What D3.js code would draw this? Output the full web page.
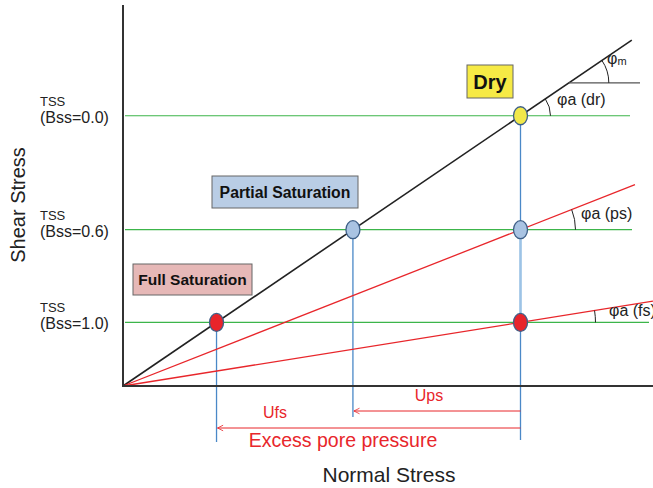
<!DOCTYPE html>
<html lang="en">
<head>
<meta charset="utf-8">
<title>Shear stress vs normal stress</title>
<script src="https://d3js.org/d3.v7.min.js"></script>
<style>
  body { margin: 0; padding: 0; background: #fff; }
  svg { display: block; font-family: "Liberation Sans", Arial, sans-serif; }
  .axis { stroke: #333; stroke-width: 2; fill: none; }
  .lvl { stroke: #3cb54a; stroke-width: 1.2; }
  .vline { stroke: #4a88c7; stroke-width: 1.3; }
  .arc { fill: none; stroke: #222; stroke-width: 1; }
  .lab { font-size: 16px; fill: #222; }
  .red { fill: #e8262b; }
</style>
</head>
<body>
<script>
// data (abstract units)
var sigmaTest = 7.5;                 // normal stress of the test
var states = ["Dry", "Partial Saturation", "Full Saturation"];
var stateKeys = ["dr", "ps", "fs"];
var bssLabels = ["(Bss=0.0)", "(Bss=0.6)", "(Bss=1.0)"];
var tauLevels = [5.1, 2.95, 1.2];    // shear strength for each state
var lineEnds = [9.6, 9.66, 10];      // where each envelope stops
var stateFill = ["#f6ea45", "#b9cde5", "#e6b8b7"];
var pointFill = ["#f1e84a", "#a9c3e2", "#e8242a"];

var width = 653, height = 488;

var svg = d3.select("body").append("svg")
    .attr("width", width)
    .attr("height", height);

var x = d3.scaleLinear().domain([0, 10]).range([123, 653]);
var y = d3.scaleLinear().domain([0, 7.19]).range([386, 5]);

var slopeM = tauLevels[0] / sigmaTest;   // tan(phi m)
// effective stress where each level meets the envelope
var sigmaEff = tauLevels.map(function(t) { return t / slopeM; });

svg.append("defs").append("marker")
    .attr("id", "ah")
    .attr("viewBox", "-9 -5 10 10")
    .attr("refX", 0).attr("refY", 0)
    .attr("markerWidth", 8).attr("markerHeight", 8)
    .attr("orient", "auto")
    .append("path")
    .attr("d", "M-7,-3.5 L0,0 L-7,3.5")
    .attr("fill", "none")
    .attr("stroke", "#e8262b")
    .attr("stroke-width", 1);

// horizontal levels
var levelEnd = [630, 632, 649];
svg.selectAll(".lvl").data(tauLevels).enter().append("line")
    .attr("class", "lvl")
    .attr("x1", x(0) + 2).attr("x2", function(d, i) { return levelEnd[i]; })
    .attr("y1", function(d) { return y(d); })
    .attr("y2", function(d) { return y(d); });

// vertical blue lines
var vBottom = [442, 417];
svg.append("line").attr("class", "vline")
    .attr("x1", x(sigmaEff[2])).attr("x2", x(sigmaEff[2]))
    .attr("y1", y(tauLevels[2])).attr("y2", vBottom[0]);
svg.append("line").attr("class", "vline")
    .attr("x1", x(sigmaEff[1])).attr("x2", x(sigmaEff[1]))
    .attr("y1", y(tauLevels[1])).attr("y2", vBottom[1]);
svg.append("line").attr("class", "vline")
    .attr("x1", x(sigmaTest)).attr("x2", x(sigmaTest))
    .attr("y1", y(tauLevels[0])).attr("y2", 440);
svg.append("line")
    .attr("x1", x(sigmaTest)).attr("x2", x(sigmaTest))
    .attr("y1", y(tauLevels[1])).attr("y2", y(tauLevels[2]))
    .attr("stroke", "#9dc3e6").attr("stroke-width", 2.5);

// envelopes
svg.selectAll(".env").data(tauLevels).enter().append("line")
    .attr("class", "env")
    .attr("x1", x(0)).attr("y1", y(0))
    .attr("x2", function(d, i) { return x(lineEnds[i]); })
    .attr("y2", function(d, i) { return y(d / sigmaTest * lineEnds[i]); })
    .attr("stroke", function(d, i) { return i == 0 ? "#222" : "#e8262b"; })
    .attr("stroke-width", function(d, i) { return i == 0 ? 1.6 : 1.3; });

// short horizontal for phi m
var tauM = 5.72;
svg.append("line")
    .attr("x1", x(tauM / slopeM)).attr("x2", 640)
    .attr("y1", y(tauM)).attr("y2", y(tauM))
    .attr("stroke", "#555").attr("stroke-width", 1.2);

// axes
svg.append("path").attr("class", "axis")
    .attr("d", "M" + x(0) + "," + y(7.19) + "V" + y(0) + "H" + x(10));

// angle arcs
function angleArc(cx, cy, r, slopePx) {
  var a = Math.atan(slopePx);
  var p = d3.path();
  p.moveTo(cx + r, cy);
  p.arc(cx, cy, r, 0, -a, true);
  return p.toString();
}
function pxSlope(i) {
  return (y(0) - y(tauLevels[i])) / (x(sigmaTest) - x(0));
}
var arcR = [30, 55, 75];
tauLevels.forEach(function(t, i) {
  svg.append("path").attr("class", "arc")
      .attr("d", angleArc(x(sigmaTest), y(t), arcR[i], pxSlope(i)));
});
svg.append("path").attr("class", "arc")
    .attr("d", angleArc(x(tauM / slopeM), y(tauM), 40, pxSlope(0)));

var angLabPos = [[557, 105], [581, 219], [609, 316]];
stateKeys.forEach(function(k, i) {
  svg.append("text").attr("class", "lab")
      .attr("x", angLabPos[i][0]).attr("y", angLabPos[i][1])
      .text("φa (" + k + ")");
});
var phm = svg.append("text").attr("class", "lab").attr("x", 607).attr("y", 64);
phm.append("tspan").text("φ");
phm.append("tspan").attr("font-size", "11px").attr("dy", 1).text("m");

// points
var pts = [
  { s: sigmaTest, t: tauLevels[0], f: pointFill[0] },
  { s: sigmaEff[1], t: tauLevels[1], f: pointFill[1] },
  { s: sigmaTest, t: tauLevels[1], f: pointFill[1] },
  { s: sigmaEff[2], t: tauLevels[2], f: pointFill[2] },
  { s: sigmaTest, t: tauLevels[2], f: pointFill[2] }
];
svg.selectAll(".pt").data(pts).enter().append("ellipse")
    .attr("cx", function(d) { return x(d.s); })
    .attr("cy", function(d) { return y(d.t); })
    .attr("rx", 7).attr("ry", 9)
    .attr("fill", function(d) { return d.f; })
    .attr("stroke", "#3e5f87").attr("stroke-width", 1.3);

// state boxes
var boxes = [
  { x: 467, y: 65, w: 46, h: 33, fs: 20 },
  { x: 212, y: 176, w: 146, h: 32, fs: 15.8 },
  { x: 133, y: 264, w: 119, h: 31, fs: 15.5 }
];
boxes.forEach(function(b, i) {
  svg.append("rect")
      .attr("x", b.x).attr("y", b.y).attr("width", b.w).attr("height", b.h)
      .attr("fill", stateFill[i]).attr("stroke", "#666").attr("stroke-width", 1);
  svg.append("text")
      .attr("x", b.x + b.w / 2).attr("y", b.y + b.h / 2)
      .attr("dy", "0.36em").attr("text-anchor", "middle")
      .attr("font-size", b.fs + "px").attr("font-weight", "bold").attr("fill", "#111")
      .text(states[i]);
});

// y labels
tauLevels.forEach(function(t, i) {
  svg.append("text").attr("x", 40).attr("y", y(t) - 10)
      .attr("font-size", "18px").attr("font-variant", "small-caps").attr("fill", "#222")
      .text("τss");
  svg.append("text").attr("x", 40).attr("y", y(t) + 7)
      .attr("font-size", "16px").attr("fill", "#222")
      .text(bssLabels[i]);
});

// pore pressure arrows
var arrowY = [411, 428];
svg.append("line")
    .attr("x1", x(sigmaTest)).attr("x2", x(sigmaEff[1]) + 1)
    .attr("y1", arrowY[0]).attr("y2", arrowY[0])
    .attr("stroke", "#e8262b").attr("stroke-width", 1).attr("marker-end", "url(#ah)");
svg.append("line")
    .attr("x1", x(sigmaTest)).attr("x2", x(sigmaEff[2]) + 1)
    .attr("y1", arrowY[1]).attr("y2", arrowY[1])
    .attr("stroke", "#e8262b").attr("stroke-width", 1).attr("marker-end", "url(#ah)");
svg.append("text").attr("class", "red").attr("font-size", "16px")
    .attr("text-anchor", "middle").attr("x", 429).attr("y", 401).text("Ups");
svg.append("text").attr("class", "red").attr("font-size", "16px")
    .attr("text-anchor", "middle").attr("x", 275).attr("y", 418).text("Ufs");
svg.append("text").attr("class", "red").attr("font-size", "19.5px")
    .attr("text-anchor", "middle").attr("x", 343).attr("y", 447).text("Excess pore pressure");

// axis titles
svg.append("text").attr("text-anchor", "middle")
    .attr("x", 389).attr("y", 482).attr("font-size", "21px").attr("fill", "#222")
    .text("Normal Stress");
svg.append("text").attr("text-anchor", "middle")
    .attr("transform", "translate(25,205) rotate(-90)")
    .attr("font-size", "20px").attr("fill", "#222")
    .text("Shear Stress");
</script>
</body>
</html>
